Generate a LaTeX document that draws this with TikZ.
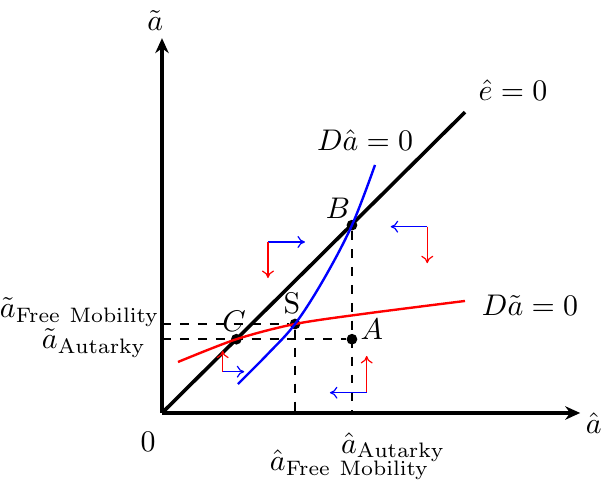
\documentclass[tikz,border=0pt]{standalone}
\usetikzlibrary{arrows.meta}
\begin{document}
\begin{tikzpicture}[>=Stealth,
    dot/.style={circle,fill=black,inner sep=0pt,minimum size=3.6pt},
    axis/.style={very thick,-{Stealth[length=5pt,width=4.5pt]}},
    guide/.style={dashed,semithick},
    phase/.style={-{To[length=2.5pt,width=4pt]}}]
  \useasboundingbox (-1.906,-0.894) rectangle (5.165,4.859);
  % axes
  \coordinate (O) at (0,0);
  \coordinate (xend) at (4.92,0);
  \coordinate (yend) at (0,4.41);
  \draw[axis] (O) -- (xend);
  \draw[axis] (O) -- (yend);
  \node (alab) at (5.08,-0.12) {$\hat{a}$};
  \node (tlab) at (-0.08,4.62) {$\tilde{a}$};
  \node (zero) at (-0.165,-0.34) {$0$};
  % e-hat line
  \coordinate (eend) at (3.565,3.54);
  \draw[very thick] (O) -- (eend);
  \node (elab) at (4.13,3.80) {$\hat{e}=0$};
  % points
  \node[dot] (B) at (2.235,2.21) {};
  \node[dot] (S) at (1.565,1.047) {};
  \node[dot] (C) at (0.875,0.868) {};
  \node[dot] (A) at (2.235,0.868) {};
  \node (Blab) at (2.07,2.41) {$B$};
  \node (Slab) at (1.53,1.29) {S};
  \node (Clab) at (0.85,1.075) {$C$};
  \node (Alab) at (2.47,0.98) {$A$};
  % dashed guides
  \coordinate (yS) at (0,1.047);
  \coordinate (yA) at (0,0.868);
  \coordinate (xS) at (1.565,0);
  \coordinate (xB) at (2.235,0);
  \draw[guide] (yS) -- (S);
  \draw[guide] (yA) -- (A);
  \draw[guide] (S) -- (xS);
  \draw[guide] (B) -- (xB);
  % curves
  \draw[red,thick] plot[smooth] coordinates {(0.188,0.60) (C) (S) (2.4,1.17) (3.565,1.318)};
  \draw[blue,thick] plot[smooth,tension=0.6] coordinates {(0.894,0.341) (1.25,0.70) (S) (1.898,1.565) (B) (2.506,2.918)};
  \node (Dalab) at (2.39,3.21) {$D\hat{a}=0$};
  \node (Dtlab) at (4.33,1.27) {$D\tilde{a}=0$};
  % axis labels
  \node[anchor=east,inner sep=0pt] (tfree) at (-0.02,1.19) {$\tilde{a}_{\mathrm{Free\ Mobility}}$};
  \node[anchor=east,inner sep=0pt] (taut) at (-0.18,0.82) {$\tilde{a}_{\mathrm{Autarky}}$};
  \node (haut) at (2.72,-0.40) {$\hat{a}_{\mathrm{Autarky}}$};
  \node (hfree) at (2.21,-0.61) {$\hat{a}_{\mathrm{Free\ Mobility}}$};
  % phase arrows
  \coordinate (p1) at (1.247,2.012);
  \coordinate (p2) at (3.121,2.192);
  \coordinate (p3) at (0.714,0.486);
  \coordinate (p4) at (2.408,0.239);
  \draw[phase,blue] (p1) -- ++(0.435,0);
  \draw[phase,red] (p1) -- ++(0,-0.424);
  \draw[phase,blue] (p2) -- ++(-0.43,0);
  \draw[phase,red] (p2) -- ++(0,-0.43);
  \draw[phase,red] (p3) -- ++(0,0.247);
  \draw[phase,blue] (p3) -- ++(0.254,0);
  \draw[phase,red] (p4) -- ++(0,0.432);
  \draw[phase,blue] (p4) -- ++(-0.432,0);
\end{tikzpicture}
\end{document}
